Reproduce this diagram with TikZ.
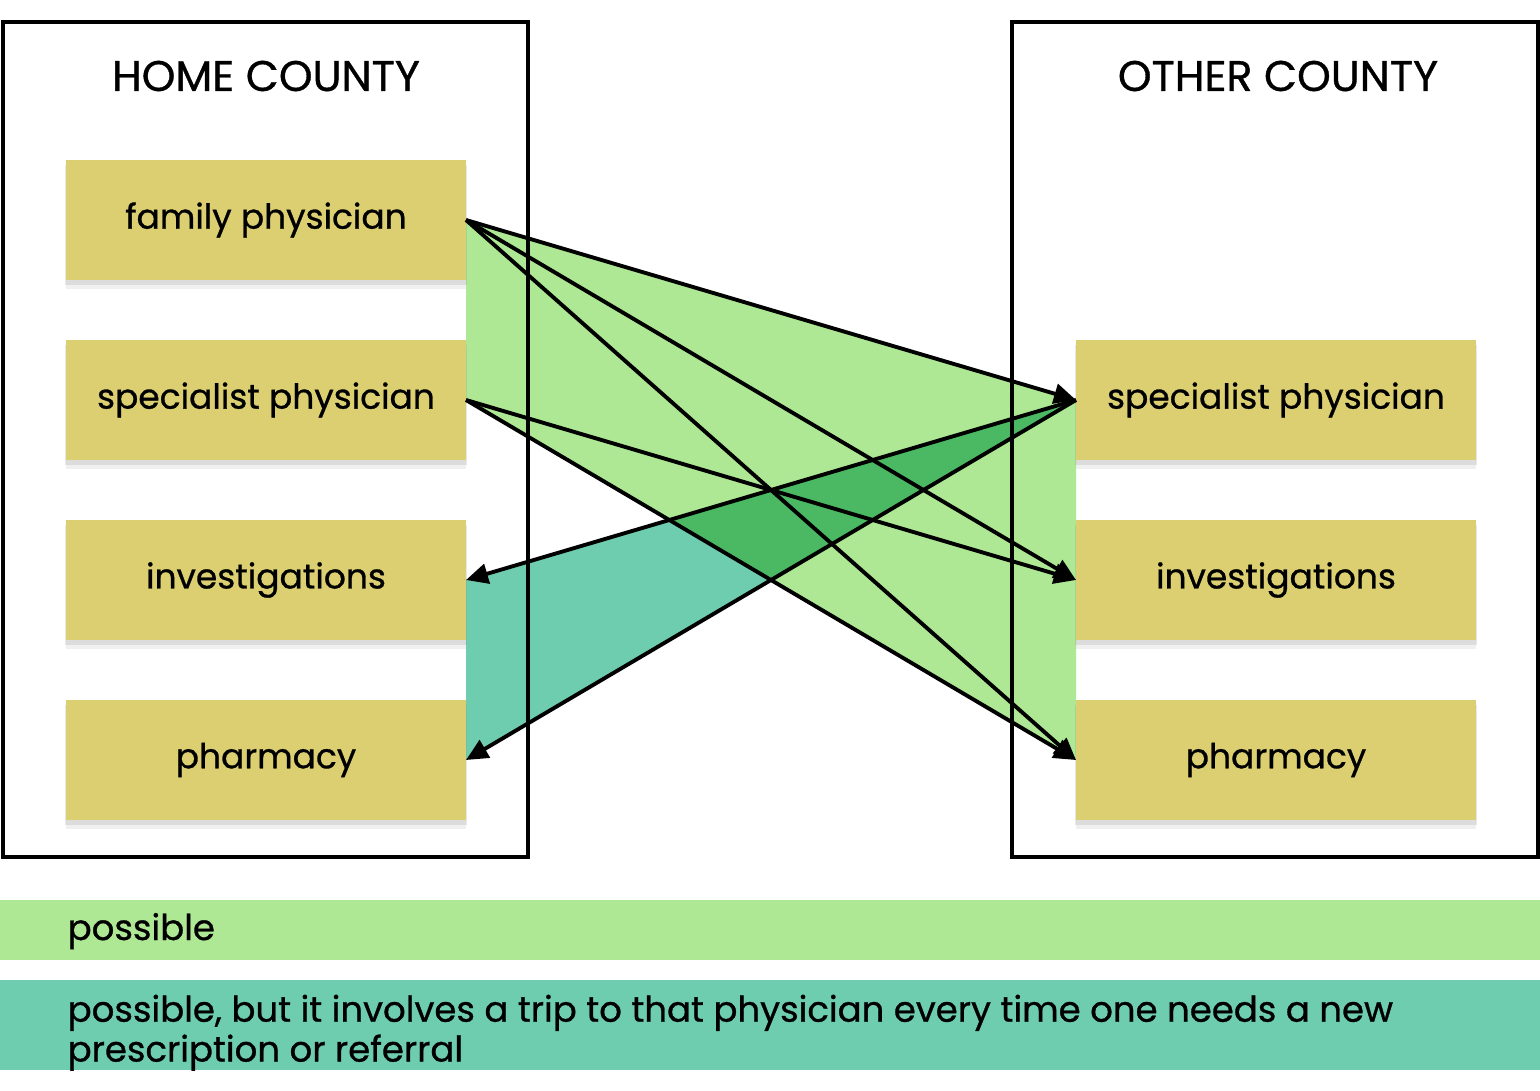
\documentclass[tikz,border=0pt]{standalone}
\usepackage{fontspec}
\setmainfont{Poppins}[FakeBold=0.8]
\usetikzlibrary{arrows.meta,%
		backgrounds,%
		positioning,%
		shadows}

\definecolor{giallo}{HTML}{DBCF72}
\definecolor{verdechiaro}{HTML}{AEE894}
\definecolor{verdeacqua}{HTML}{6ECDAF}
\definecolor{verdescuro}{HTML}{4BB963}

\tikzset{casella/.style={fill=giallo,minimum width=4cm,minimum height=1.2cm,inner sep=0pt,outer sep=0pt,%
		font=\fontsize{9.8}{12}\selectfont,%
		drop shadow={shadow xshift=0pt,shadow yshift=-1.4pt,shadow scale=1.005,opacity=.18},%
		drop shadow={shadow xshift=0pt,shadow yshift=-2.6pt,opacity=.12}},
	freccia/.style={line width=1.1pt,-{Triangle[length=2.2mm,width=2mm]}},
	titolo/.style={font=\fontsize{12.2}{14}\selectfont},
	cornice/.style={line width=1pt}}

\begin{document}
\begin{tikzpicture}[x=.1mm,y=-.1mm]
\useasboundingbox (0,0) rectangle (1540,1090);

%le caselle della contea di residenza
\node[casella] (fam) at (266,220) {family physician};
\node[casella,below=6mm of fam] (spec) {specialist physician};
\node[casella,below=6mm of spec] (inv) {investigations};
\node[casella,below=6mm of inv] (farm) {pharmacy};

%le caselle dell'altra contea
\node[casella] (specb) at (1276,400) {specialist physician};
\node[casella,below=6mm of specb] (invb) {investigations};
\node[casella,below=6mm of invb] (farmb) {pharmacy};

%i titoli
\node[titolo] (casa) at (266,76) {HOME COUNTY};
\node[titolo] (altra) at (1278,76) {OTHER COUNTY};

%le zone colorate
\begin{scope}[on background layer]
\fill[verdechiaro] (fam.east) -- (specb.west) -- (farmb.west) -- (spec.east) -- cycle;
\fill[verdeacqua] (inv.east) -- (specb.west) -- (farm.east) -- cycle;
\begin{scope}
\clip (fam.east) -- (specb.west) -- (farmb.west) -- (spec.east) -- cycle;
\fill[verdescuro] (inv.east) -- (specb.west) -- (farm.east) -- cycle;
\end{scope}
\end{scope}

%le contee
\draw[cornice] (3,22) rectangle (528,857);
\draw[cornice] (1012,22) rectangle (1538,857);

%le frecce
\draw[freccia] (fam.east) -- (specb.west);
\draw[freccia] (fam.east) -- (invb.west);
\draw[freccia] (fam.east) -- (farmb.west);
\draw[freccia] (spec.east) -- (invb.west);
\draw[freccia] (spec.east) -- (farmb.west);
\draw[freccia] (specb.west) -- (inv.east);
\draw[freccia] (specb.west) -- (farm.east);

%la legenda
\fill[verdechiaro] (0,900) rectangle (1540,960);
\fill[verdeacqua] (0,980) rectangle (1540,1070);
\node[anchor=base west,inner sep=0pt,font=\fontsize{10.1}{10}\selectfont] (leg1) at (67,940) {possible};
\node[anchor=north west,inner sep=0pt,align=left,font=\fontsize{10.1}{10}\selectfont] (leg2) at (67,994)
	{possible, but it involves a trip to that physician every time one needs a new\\prescription or referral};

\end{tikzpicture}
\end{document}
